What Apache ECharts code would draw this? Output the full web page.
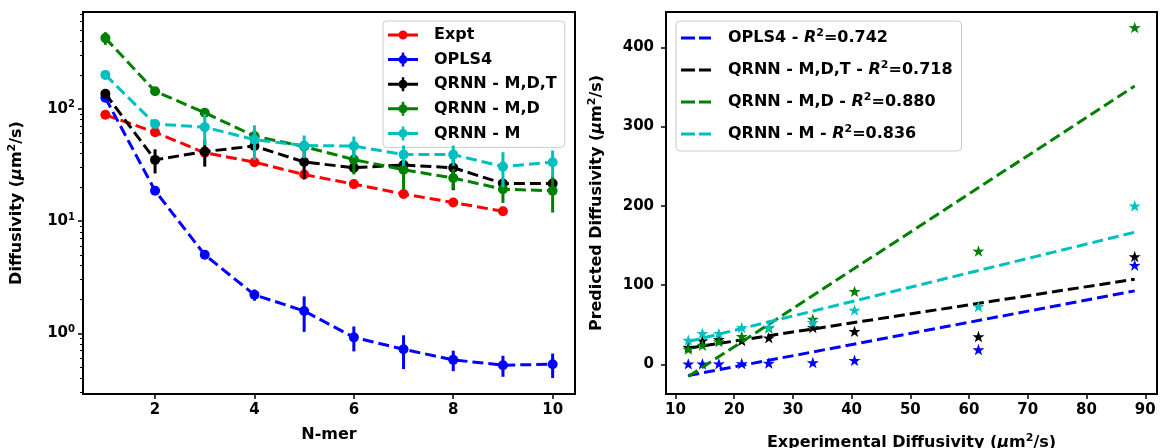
<!DOCTYPE html>
<html>
<head>
<meta charset="utf-8">
<script src="https://cdn.jsdelivr.net/npm/echarts@6/dist/echarts.min.js"></script>
<style>
  html, body { margin: 0; padding: 0; background: #ffffff; }
  #chart { width: 1161px; height: 448px; }
</style>
</head>
<body>
<div id="chart"></div>
<script>
// ---- Diffusivity vs. chain length (left panel) ----
const nmer = [1, 2, 3, 4, 5, 6, 7, 8, 9, 10];
const expt = [88.2, 61.6, 40.5, 33.4, 25.9, 21.3, 17.4, 14.6, 12.2];
const opls4 = [125, 18.6, 5.0, 2.2, 1.58, 0.92, 0.72, 0.58, 0.52, 0.53];
const opls4Err = [6, 1.5, 0.4, 0.25, 0.55, 0.23, 0.24, 0.12, 0.11, 0.13];
const qrnnMDT = [136, 35, 41.5, 46.5, 33.5, 29.8, 31.5, 29.8, 21.6, 21.6];
const qrnnMDTErr = [10, 8.5, 11, 6, 10, 3, 3, 11, 2, 2];
const qrnnMD = [425, 143, 92, 57, 46, 35.2, 28.6, 24.1, 19.2, 18.6];
const qrnnMDErr = [55, 8, 6, 8, 5, 9.2, 9.5, 5, 4.7, 6.7];
const qrnnM = [200, 73, 68.5, 53, 47, 46.5, 39, 39, 30.5, 33.4];
const qrnnMErr = [12, 6, 21, 18, 10.7, 10, 8, 8, 10.5, 9];

const nmerTicks = [2, 4, 6, 8, 10];
const logMajorTicks = [1, 10, 100];
const logMinorTicks = [0.3, 0.4, 0.5, 0.6, 0.7, 0.8, 0.9,
                       2, 3, 4, 5, 6, 7, 8, 9,
                       20, 30, 40, 50, 60, 70, 80, 90,
                       200, 300, 400, 500, 600, 700];

// ---- Predicted vs. experimental (right panel) ----
const exptTicks = [10, 20, 30, 40, 50, 60, 70, 80, 90];
const predTicks = [0, 100, 200, 300, 400];
const fitX = [12.2, 88.2];
const fitOpls4 = [-14.2, 92.6];
const fitMDT = [20.3, 107.3];
const fitMD = [-15.5, 351];
const fitM = [28.6, 166.6];
const fitLabels = ['OPLS4', 'QRNN - M,D,T', 'QRNN - M,D', 'QRNN - M'];
const fitR2 = ['0.742', '0.718', '0.880', '0.836'];

const FONT = 'DejaVu Sans';
const RED = '#ff0000', BLUE = '#0000ff', BLACK = '#000000', GREEN = '#008000', CYAN = '#00bfbf';
const DASH = [11, 5];
const STAR = 'path://M50,0L61.8,35.1L97.6,34.5L69.1,56.7L79.4,90.5L50,70L20.6,90.5L30.9,56.7L2.4,34.5L38.2,35.1Z';
const ICON_ERR = 'path://M0,5.5H30V8.5H0Z M10.5,7A4.5,4.5 0 1 1 19.5,7A4.5,4.5 0 1 1 10.5,7Z M13.75,0H16.25V14H13.75Z';
const ICON_PLAIN = 'path://M0,5.5H30V8.5H0Z M10.5,7A4.5,4.5 0 1 1 19.5,7A4.5,4.5 0 1 1 10.5,7Z M15,0Z M15,14Z';
const ICON_DASH = 'path://M0,0H14V3H0Z M18,0H30V3H18Z';

const tickText = { fontFamily: FONT, fontWeight: 'bold', fontSize: 15, color: '#000' };
const baseText = { fontFamily: FONT, fontWeight: 'bold', fontSize: 16, color: '#000' };
const supStyle = { fontSize: 11, fontWeight: 'bold', fontFamily: FONT, color: '#000', padding: [0, 0, 9, 0] };
const tickSup = { fontSize: 10, fontWeight: 'bold', fontFamily: FONT, color: '#000', padding: [0, 0, 8, 0] };
const nameRich = { mu: Object.assign({}, baseText, { fontStyle: 'italic' }), sup: supStyle };

function powLabel(v) {
  const e = Math.round(Math.log10(v));
  return '{b|10}{sup|' + e + '}';
}

function errorBars(name, vals, errs, color, z) {
  return {
    type: 'custom', name: name + ' err', xAxisIndex: 0, yAxisIndex: 0, z: z, silent: true,
    data: vals.map((v, i) => [nmer[i], v - errs[i], v + errs[i]]),
    encode: { x: 0, y: [1, 2] },
    renderItem: function (params, api) {
      const lo = api.coord([api.value(0), api.value(1)]);
      const hi = api.coord([api.value(0), api.value(2)]);
      return {
        type: 'line',
        shape: { x1: lo[0], y1: lo[1], x2: hi[0], y2: hi[1] },
        style: { stroke: color, lineWidth: 3 }
      };
    }
  };
}

function nmerLine(name, vals, color, z) {
  return {
    type: 'line', name: name, xAxisIndex: 0, yAxisIndex: 0, z: z,
    data: vals.map((v, i) => [nmer[i], v]),
    symbol: 'circle', symbolSize: 10, showSymbol: true,
    itemStyle: { color: color, borderWidth: 0 },
    lineStyle: { color: color, width: 3, type: DASH }
  };
}

function starScatter(name, vals, color, z) {
  return {
    type: 'scatter', name: name, xAxisIndex: 1, yAxisIndex: 2, z: z,
    data: expt.map((x, i) => [x, vals[i]]),
    symbol: STAR, symbolSize: 12, symbolKeepAspect: true,
    itemStyle: { color: color, opacity: 1 }
  };
}

function fitName(i) { return fitLabels[i] + ' - R2=' + fitR2[i]; }

function fitLine(i, ends, color, z) {
  return {
    type: 'line', name: fitName(i), xAxisIndex: 1, yAxisIndex: 2, z: z,
    data: fitX.map((x, k) => [x, ends[k]]),
    symbol: 'none',
    itemStyle: { color: color, borderWidth: 0 },
    lineStyle: { color: color, width: 3, type: DASH }
  };
}

const tickStyle = { show: true, inside: false, length: 5, lineStyle: { color: '#000', width: 1.5 } };
const noLine = { show: false, onZero: false };

const option = {
  animation: false,
  backgroundColor: '#ffffff',
  textStyle: baseText,
  grid: [
    { left: 83, top: 12, width: 492, height: 382, containLabel: false, outerBoundsMode: 'none',
      show: true, borderColor: '#000', borderWidth: 2, backgroundColor: 'transparent' },
    { left: 666, top: 12, width: 491, height: 382, containLabel: false, outerBoundsMode: 'none',
      show: true, borderColor: '#000', borderWidth: 2, backgroundColor: 'transparent' }
  ],
  xAxis: [
    {
      type: 'value', gridIndex: 0, min: 0.55, max: 10.45,
      name: 'N-mer', nameLocation: 'middle', nameGap: 33,
      nameTextStyle: baseText,
      axisLine: noLine,
      axisTick: Object.assign({ customValues: nmerTicks }, tickStyle),
      axisLabel: Object.assign({ customValues: nmerTicks, margin: 9 }, tickText),
      splitLine: { show: false }
    },
    {
      type: 'value', gridIndex: 1, min: 8.4, max: 92,
      name: 'Experimental Diffusivity ({mu|μ}m{sup|2}/s)', nameLocation: 'middle', nameGap: 39,
      nameTextStyle: Object.assign({}, baseText, { rich: nameRich }),
      axisLine: noLine,
      axisTick: Object.assign({ customValues: exptTicks }, tickStyle),
      axisLabel: Object.assign({ customValues: exptTicks, margin: 9 }, tickText),
      splitLine: { show: false }
    }
  ],
  yAxis: [
    {
      type: 'log', gridIndex: 0, position: 'left', min: 0.288, max: 726, logBase: 10,
      name: 'Diffusivity ({mu|μ}m{sup|2}/s)', nameLocation: 'middle', nameGap: 56, nameRotate: 90,
      nameTextStyle: Object.assign({}, baseText, { rich: nameRich }),
      axisLine: noLine,
      axisTick: Object.assign({ customValues: logMajorTicks }, tickStyle),
      axisLabel: {
        customValues: logMajorTicks, margin: 8,
        formatter: powLabel,
        rich: { b: tickText, sup: tickSup }
      },
      splitLine: { show: false },
      minorTick: { show: false }
    },
    {
      type: 'log', gridIndex: 0, position: 'left', min: 0.288, max: 726, logBase: 10,
      axisLine: noLine,
      axisTick: { show: true, inside: false, length: 3, customValues: logMinorTicks, lineStyle: { color: '#000', width: 1 } },
      axisLabel: { show: false },
      splitLine: { show: false }
    },
    {
      type: 'value', gridIndex: 1, position: 'left', min: -37.5, max: 444.5,
      name: 'Predicted Diffusivity ({mu|μ}m{sup|2}/s)', nameLocation: 'middle', nameGap: 59, nameRotate: 90,
      nameTextStyle: Object.assign({}, baseText, { rich: nameRich }),
      axisLine: noLine,
      axisTick: Object.assign({ customValues: predTicks }, tickStyle),
      axisLabel: Object.assign({ customValues: predTicks, margin: 12 }, tickText),
      splitLine: { show: false }
    }
  ],
  legend: [
    {
      orient: 'vertical', left: 383, top: 21,
      padding: [4, 8, 4, 5],
      itemWidth: 30, itemHeight: 14, itemGap: 4.6,
      symbolKeepAspect: true,
      backgroundColor: 'rgba(255,255,255,0.8)', borderColor: '#cccccc', borderWidth: 1, borderRadius: 4,
      itemStyle: { borderWidth: 0 },
      textStyle: Object.assign({}, baseText, { lineHeight: 20, padding: [0, 0, 0, 11] }),
      data: [
        { name: 'Expt', icon: ICON_PLAIN },
        { name: 'OPLS4', icon: ICON_ERR },
        { name: 'QRNN - M,D,T', icon: ICON_ERR },
        { name: 'QRNN - M,D', icon: ICON_ERR },
        { name: 'QRNN - M', icon: ICON_ERR }
      ]
    },
    {
      orient: 'vertical', left: 676, top: 21,
      padding: [5, 9, 5, 5],
      itemWidth: 30, itemHeight: 3, itemGap: 8,
      symbolKeepAspect: false,
      backgroundColor: 'rgba(255,255,255,0.8)', borderColor: '#cccccc', borderWidth: 1, borderRadius: 4,
      itemStyle: { borderWidth: 0 },
      textStyle: Object.assign({}, baseText, {
        lineHeight: 24, padding: [0, 0, 0, 12],
        rich: {
          b: baseText,
          i: Object.assign({}, baseText, { fontStyle: 'italic' }),
          sup: supStyle
        }
      }),
      formatter: function (name) {
        const i = fitLabels.findIndex((l, k) => fitName(k) === name);
        return '{b|' + fitLabels[i] + ' - }{i|R}{sup|2}{b|=' + fitR2[i] + '}';
      },
      data: fitLabels.map((l, i) => ({ name: fitName(i), icon: ICON_DASH }))
    }
  ],
  series: [
    nmerLine('Expt', expt, RED, 2),
    errorBars('OPLS4', opls4, opls4Err, BLUE, 3),
    nmerLine('OPLS4', opls4, BLUE, 3),
    errorBars('QRNN - M,D,T', qrnnMDT, qrnnMDTErr, BLACK, 4),
    nmerLine('QRNN - M,D,T', qrnnMDT, BLACK, 4),
    errorBars('QRNN - M,D', qrnnMD, qrnnMDErr, GREEN, 5),
    nmerLine('QRNN - M,D', qrnnMD, GREEN, 5),
    errorBars('QRNN - M', qrnnM, qrnnMErr, CYAN, 6),
    nmerLine('QRNN - M', qrnnM, CYAN, 6),

    starScatter('OPLS4 pts', opls4, BLUE, 2),
    fitLine(0, fitOpls4, BLUE, 2),
    starScatter('QRNN - M,D,T pts', qrnnMDT, BLACK, 3),
    fitLine(1, fitMDT, BLACK, 3),
    starScatter('QRNN - M,D pts', qrnnMD, GREEN, 4),
    fitLine(2, fitMD, GREEN, 4),
    starScatter('QRNN - M pts', qrnnM, CYAN, 5),
    fitLine(3, fitM, CYAN, 5)
  ]
};

const chart = echarts.init(document.getElementById('chart'), null, { renderer: 'canvas' });
chart.setOption(option);
</script>
</body>
</html>
